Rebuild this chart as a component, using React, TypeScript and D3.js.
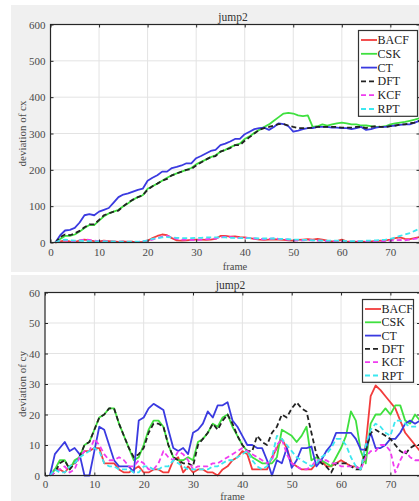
import { useEffect, useRef } from 'react';
import * as d3 from 'd3';

const frames = d3.range(1, 77);
const names = ['BACF', 'CSK', 'CT', 'DFT', 'KCF', 'RPT'];
const colors = ['#f23c3c', '#3fe03f', '#3a3ae0', '#222222', '#f03cf0', '#3ce8f0'];
const dashed = [false, false, false, true, true, true];

// deviation of cx
const cxBACF = [0, 3, 5, 3, 2, 5, 8, 6, 4, 3, 5, 4, 3, 2, 3, 2, 2, 1, 2, 5, 12, 18, 22, 20, 12, 6, 5, 6, 7, 8, 8, 7, 8, 10, 18, 18, 16, 17, 15, 14, 12, 10, 8, 7, 8, 9, 8, 7, 6, 5, 7, 8, 9, 8, 10, 8, 5, 3, 4, 8, 3, 2, 2, 3, 2, 3, 4, 5, 6, 8, 12, 14, 10, 9, 12, 15];
const cxCSK = [0, 10, 18, 18, 22, 30, 40, 48, 48, 60, 72, 80, 85, 90, 100, 108, 118, 125, 130, 148, 155, 162, 170, 178, 185, 190, 195, 200, 205, 215, 222, 228, 235, 240, 250, 255, 262, 268, 272, 285, 292, 302, 310, 318, 325, 335, 345, 355, 357, 355, 350, 348, 350, 318, 320, 325, 322, 325, 328, 330, 328, 325, 325, 322, 322, 320, 318, 318, 320, 325, 328, 330, 332, 335, 338, 342];
const cxCT = [0, 20, 33, 35, 40, 55, 75, 78, 75, 85, 90, 95, 110, 125, 132, 135, 140, 145, 148, 170, 178, 185, 195, 195, 205, 208, 212, 218, 218, 232, 238, 245, 252, 255, 268, 272, 278, 285, 285, 298, 305, 312, 315, 316, 310, 318, 328, 326, 320, 305, 308, 312, 315, 315, 318, 318, 318, 316, 316, 315, 315, 312, 315, 318, 310, 312, 316, 318, 318, 320, 322, 324, 325, 325, 330, 335];
const cxDFT = [0, 15, 22, 20, 25, 32, 42, 50, 50, 62, 75, 80, 85, 88, 100, 110, 118, 125, 130, 145, 155, 162, 170, 175, 185, 190, 195, 200, 202, 212, 220, 228, 235, 238, 250, 255, 260, 268, 268, 280, 290, 300, 310, 315, 318, 322, 326, 326, 322, 318, 315, 315, 315, 316, 318, 318, 318, 318, 318, 316, 316, 316, 318, 318, 315, 318, 320, 318, 318, 320, 322, 325, 325, 328, 330, 335];
const cxKCF = [0, 5, 6, 4, 3, 6, 8, 7, 5, 4, 4, 3, 2, 2, 2, 2, 1, 2, 3, 5, 8, 12, 16, 18, 14, 10, 8, 8, 7, 6, 8, 9, 10, 11, 14, 16, 15, 14, 12, 13, 12, 11, 10, 9, 10, 11, 10, 9, 8, 6, 5, 6, 7, 6, 5, 5, 4, 3, 3, 2, 2, 2, 3, 3, 2, 2, 3, 4, 4, 5, 6, 7, 6, 8, 10, 12];
const cxRPT = [0, 6, 8, 6, 5, 5, 4, 4, 3, 3, 3, 3, 3, 2, 2, 2, 2, 2, 3, 6, 10, 12, 14, 15, 14, 13, 12, 12, 12, 13, 13, 14, 14, 14, 14, 14, 13, 13, 12, 12, 12, 12, 11, 11, 11, 11, 10, 10, 9, 8, 8, 7, 7, 6, 6, 5, 5, 5, 5, 5, 4, 4, 4, 4, 5, 5, 6, 7, 8, 10, 14, 18, 22, 26, 32, 38];

// deviation of cy
const cyBACF = [0, 2, 2, 1, 3, 4, 6, 8, 8, 9, 9, 4, 4, 4, 2, 1, 1, 2, 3, 1, 1, 2, 2, 1, 1, 5, 6, 1, 3, 1, 2, 2, 1, 1, 0, 2, 3, 5, 6, 8, 7, 2, 2, 2, 2, 6, 9, 12, 9, 4, 3, 2, 2, 2, 4, 5, 3, 3, 4, 5, 4, 3, 3, 2, 10, 26, 29.5, 28, 26, 24, 22, 18, 14, 12, 10, 8];
const cyCSK = [0, 2, 5, 5, 2, 5, 6, 10, 11, 15, 19, 20, 22, 22, 17, 13, 9, 5, 6, 10, 15, 18, 18, 16, 10, 6, 5, 5, 6, 5, 11, 12, 14, 17, 16, 19, 20, 16, 13, 10, 8, 6, 5, 4, 4, 4, 6, 15, 14, 13, 11, 13, 16, 5, 6, 5, 4, 3, 6, 9, 13, 21, 18, 8, 4, 17, 20, 20, 22, 20, 23, 23, 18, 17, 20, 18];
const cyCT = [0, 7, 9, 11, 8, 9, 7, 0, 0, 8, 16, 15, 10, 5, 3, 3, 3, 1, 18, 19, 22, 23.5, 22.5, 21.5, 15, 9, 8, 9, 7, 14, 15, 17, 21, 19, 23, 23, 24, 18, 16, 13, 10, 10, 9, 9, 5, 0, 5, 4, 9, 2.5, 5, 9, 9, 9.5, 3, 5, 8, 10, 14, 14, 14, 14, 12, 8.5, 8.5, 14, 9, 9, 10, 12, 12, 14, 17, 18, 17, 18];
const cyDFT = [0, 1, 4, 5, 2, 4, 6, 10, 11, 15, 19, 20, 22, 22, 17, 13, 9, 6, 7, 9, 14, 17, 17, 16, 10, 6, 5, 4, 4, 3, 10, 12, 14, 17, 15, 18, 20, 17, 13, 10, 8, 8, 13, 11, 10, 14, 16, 20, 19, 22, 24, 22, 21, 14, 7, 4, 3, 1, 4, 4, 4, 3, 2, 2, 8, 14, 15, 14, 13, 12, 10, 8, 7, 9, 10, 10];
const cyKCF = [0, 1, 2, 3, 1, 2, 6, 8, 8, 12, 10, 7, 5, 5, 6, 5, 3, 3, 5, 4, 2, 2, 4, 8, 6, 5, 8, 7, 5, 2, 3, 3, 3, 4, 4, 5, 6, 7, 8, 9, 8, 7, 6, 5, 4, 5, 10, 12, 7, 4, 3, 2, 2, 3, 5, 5, 5, 4, 4, 3, 3, 3, 3, 2, 6, 8, 8, 10, 10, 8, 1, 5, 8, 6, 5, 5];
const cyRPT = [0, 2, 1, 1, 3, 4, 6, 7, 8, 9, 8, 4, 3, 3, 2, 2, 2, 1, 1, 3, 3, 2, 2, 3, 3, 5, 4, 3, 2, 2, 2, 2, 2, 3, 3, 4, 5, 5, 6, 7, 8, 5, 3, 2, 3, 6, 13, 12, 10, 8, 6, 5, 4, 3, 4, 6, 7, 9, 12, 12, 10, 6, 3, 2, 10, 15, 17, 16, 14, 13, 18, 18, 17, 16, 16, 16];

const xTicks = [0, 10, 20, 30, 40, 50, 60, 70];
const cxTicks = [0, 100, 200, 300, 400, 500, 600];
const cyTicks = [0, 10, 20, 30, 40, 50, 60];

const serif = '"Liberation Serif", "Times New Roman", serif';

type Panel = {
  top: number; bottom: number;
  left: number; right: number; plotTop: number; plotBottom: number;
  yMax: number; yTicks: number[]; yLabel: string; xLabelY: number; xPad: number; series: number[][];
  legend: { x: number; y: number; w: number; step: number };
};

const panels: Panel[] = [
  {
    top: 5, bottom: 272, left: 50.5, right: 419.5, plotTop: 24.5, plotBottom: 242.5,
    yMax: 600, yTicks: cxTicks, yLabel: 'deviation of cx', xLabelY: 269.5, xPad: 6,
    series: [cxBACF, cxCSK, cxCT, cxDFT, cxKCF, cxRPT],
    legend: { x: 358.5, y: 30.5, w: 59, step: 13.8 },
  },
  {
    top: 275, bottom: 520, left: 45, right: 420, plotTop: 292.5, plotBottom: 475.5,
    yMax: 60, yTicks: cyTicks, yLabel: 'deviation of cy', xLabelY: 500, xPad: 4.5,
    series: [cyBACF, cyCSK, cyCT, cyDFT, cyKCF, cyRPT],
    legend: { x: 362.5, y: 299.5, w: 51, step: 13.3 },
  },
];

function App() {
  const svgRef = useRef<SVGSVGElement>(null);

  useEffect(() => {
    const svg = d3.select(svgRef.current);
    svg.selectAll('*').remove();

    panels.forEach((p) => {
      const g = svg.append('g');
      g.append('rect').attr('x', 11).attr('y', p.top).attr('width', 420).attr('height', p.bottom - p.top).attr('fill', '#f0f0f0');

      const x = d3.scaleLinear().domain([0, 76]).range([p.left, p.right]);
      const y = d3.scaleLinear().domain([0, p.yMax]).range([p.plotBottom, p.plotTop]);
      const w = p.right - p.left;
      const h = p.plotBottom - p.plotTop;

      g.append('rect').attr('x', p.left).attr('y', p.plotTop).attr('width', w).attr('height', h).attr('fill', '#fff');

      // grid
      g.append('g').selectAll('line').data(xTicks.slice(1)).join('line')
        .attr('x1', (d) => x(d)).attr('x2', (d) => x(d)).attr('y1', p.plotTop).attr('y2', p.plotBottom)
        .attr('stroke', '#e3e3e3').attr('stroke-width', 1);
      g.append('g').selectAll('line').data(p.yTicks.slice(1, -1)).join('line')
        .attr('x1', p.left).attr('x2', p.right).attr('y1', (d) => y(d)).attr('y2', (d) => y(d))
        .attr('stroke', '#e3e3e3').attr('stroke-width', 1);

      // lines
      p.series.forEach((vals, i) => {
        const line = d3.line<number>().x((_, j) => x(frames[j])).y((d) => y(d));
        g.append('path').attr('d', line(vals))
          .attr('fill', 'none').attr('stroke', colors[i]).attr('stroke-width', 1.8)
          .attr('stroke-linejoin', 'round')
          .attr('stroke-dasharray', dashed[i] ? '5,3' : null);
      });

      // axes with inward ticks
      const styleAxis = (sel: any) => {
        sel.select('.domain').remove();
        sel.selectAll('.tick line').attr('stroke', '#262626');
        sel.selectAll('.tick text').attr('fill', '#4a4a4a').style('font-family', serif).style('font-size', '11px');
      };
      g.append('g').attr('transform', `translate(0,${p.plotBottom})`)
        .call(d3.axisBottom(x).tickValues(xTicks).tickSizeInner(-3).tickSizeOuter(0).tickPadding(p.xPad))
        .call(styleAxis);
      g.append('g').attr('transform', `translate(0,${p.plotTop})`)
        .call(d3.axisTop(x).tickValues(xTicks).tickSizeInner(-3).tickSizeOuter(0).tickFormat(() => ''))
        .call(styleAxis);
      g.append('g').attr('transform', `translate(${p.left},0)`)
        .call(d3.axisLeft(y).tickValues(p.yTicks).tickSizeInner(-3).tickSizeOuter(0).tickPadding(5))
        .call(styleAxis);
      g.append('g').attr('transform', `translate(${p.right},0)`)
        .call(d3.axisRight(y).tickValues(p.yTicks).tickSizeInner(-3).tickSizeOuter(0).tickFormat(() => ''))
        .call(styleAxis);

      g.append('rect').attr('x', p.left).attr('y', p.plotTop).attr('width', w).attr('height', h)
        .attr('fill', 'none').attr('stroke', '#262626').attr('stroke-width', 1.2);

      // title and labels
      g.append('text').attr('x', (p.left + p.right) / 2 - 2).attr('y', p.plotTop - 4)
        .attr('text-anchor', 'middle').attr('fill', '#333').style('font-family', serif).style('font-size', '11.5px')
        .text('jump2');
      g.append('text').attr('x', (p.left + p.right) / 2).attr('y', p.xLabelY)
        .attr('text-anchor', 'middle').attr('fill', '#4a4a4a').style('font-family', serif).style('font-size', '10.5px')
        .text('frame');
      g.append('text').attr('transform', `translate(26,${(p.plotTop + p.plotBottom) / 2}) rotate(-90)`)
        .attr('text-anchor', 'middle').attr('fill', '#4a4a4a').style('font-family', serif).style('font-size', '11px')
        .text(p.yLabel);

      // legend
      const L = p.legend;
      g.append('rect').attr('x', L.x).attr('y', L.y).attr('width', L.w).attr('height', L.step * 6 + 3)
        .attr('fill', '#fff').attr('stroke', '#333').attr('stroke-width', 1.2);
      names.forEach((n, i) => {
        const cy = L.y + 9.5 + i * L.step;
        g.append('line').attr('x1', L.x + 2.5).attr('x2', L.x + 18.5).attr('y1', cy).attr('y2', cy)
          .attr('stroke', colors[i]).attr('stroke-width', 1.8)
          .attr('stroke-dasharray', dashed[i] ? '5,3' : null);
        g.append('text').attr('x', L.x + 19).attr('y', cy + 4)
          .attr('fill', '#222').style('font-family', serif).style('font-size', '12px')
          .text(n);
      });
    });
  }, []);

  return (
    <svg ref={svgRef} width={419} height={501} style={{ position: 'absolute', left: 0, top: 0, background: '#fff' }} />
  );
}

export default App;
